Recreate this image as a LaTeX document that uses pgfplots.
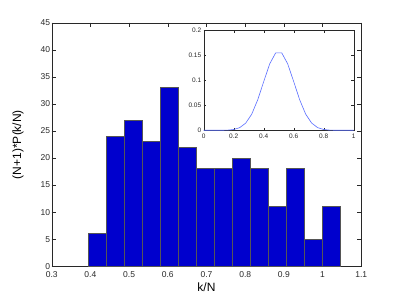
\documentclass[border=0pt]{standalone}
\usepackage{pgfplots}
\pgfplotsset{compat=1.18}
\usepackage{fontspec}
\setmainfont{Liberation Sans}
\definecolor{barblue}{RGB}{0,0,205}
\definecolor{baredge}{RGB}{85,85,85}
\definecolor{lineblue}{RGB}{90,110,255}
\definecolor{axgray}{RGB}{40,40,40}
\begin{document}
\begin{tikzpicture}[x=1pt,y=1pt]
\path[use as bounding box] (0,0) rectangle (399,300);
\begin{axis}[
  at={(51.7pt,33.7pt)}, anchor=south west,
  scale only axis, width=309.6pt, height=243.6pt,
  xmin=0.3, xmax=1.1, ymin=0, ymax=45,
  xtick={0.3,0.4,...,1.1}, ytick={0,5,...,45},
  xticklabels={0.3,0.4,0.5,0.6,0.7,0.8,0.9,1,1.1},
  tick align=inside, major tick length=4pt,
  axis line style={axgray}, tick style={axgray},
  ticklabel style={font=\fontsize{8.5}{9}\selectfont, text=axgray},
  xticklabel style={yshift=-2pt},
  yticklabel style={xshift=2pt},
  /pgf/number format/assume math mode=true,
  xlabel={k/N}, ylabel={(N+1)*P(k/N)},
  label style={font=\fontsize{12}{13}\selectfont},
  xlabel style={at={(axis description cs:0.5,-0.084)}, anchor=center},
  ylabel style={at={(axis description cs:-0.109,0.5)}, anchor=center},
]
\addplot[ybar interval, fill=barblue, draw=baredge, line width=0.8pt] coordinates {
(0.3955,6) (0.4420,24) (0.4885,27) (0.5350,23) (0.5815,33) (0.6280,22)
(0.6745,18) (0.7210,18) (0.7675,20) (0.8140,18) (0.8605,11) (0.9070,18)
(0.9535,5) (1.0000,11) (1.0465,11)
};
\end{axis}
\begin{axis}[
  at={(203.7pt,169.7pt)}, anchor=south west,
  scale only axis, width=150pt, height=100pt,
  xmin=0, xmax=1, ymin=0, ymax=0.2,
  xtick={0,0.2,...,1}, ytick={0,0.05,0.1,0.15,0.2},
  xticklabels={0,0.2,0.4,0.6,0.8,1},
  yticklabels={0,0.05,0.1,0.15,0.2},
  scaled y ticks=false,
  axis background/.style={fill=white},
  tick align=inside, major tick length=2.5pt,
  axis line style={axgray}, tick style={axgray},
  ticklabel style={font=\fontsize{6.5}{7}\selectfont, text=axgray},
  /pgf/number format/assume math mode=true,
  xticklabel style={yshift=-0.5pt},
  yticklabel style={xshift=1pt},
]
\addplot[lineblue, line width=0.6pt] coordinates {
(0.00,0.0000000) (0.04,0.0000007) (0.08,0.0000089) (0.12,0.0000685)
(0.16,0.000377) (0.20,0.001583) (0.24,0.005278) (0.28,0.014326)
(0.32,0.032233) (0.36,0.060885) (0.40,0.097417) (0.44,0.132841)
(0.48,0.154981) (0.52,0.154981) (0.56,0.132841) (0.60,0.097417)
(0.64,0.060885) (0.68,0.032233) (0.72,0.014326) (0.76,0.005278)
(0.80,0.001583) (0.84,0.000377) (0.88,0.0000685) (0.92,0.0000089)
(0.96,0.0000007) (1.00,0.0000000)
};
\end{axis}
\end{tikzpicture}
\end{document}
